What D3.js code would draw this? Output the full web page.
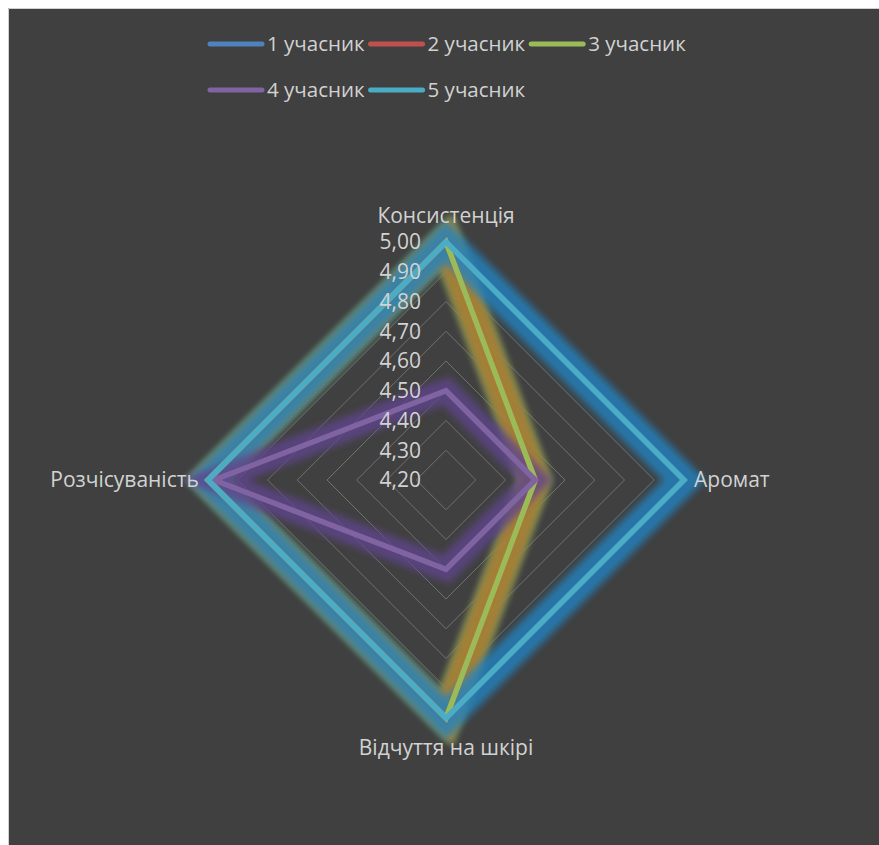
<!DOCTYPE html>
<html>
<head>
<meta charset="utf-8">
<script src="https://cdn.jsdelivr.net/npm/d3@7"></script>
<style>
  html, body { margin: 0; padding: 0; background: #ffffff; overflow: hidden; }
  svg { display: block; }
</style>
</head>
<body>
<svg id="chart" width="879" height="845"></svg>
<script>
// Radar chart: sensory scores of five participants
const axes = ["Консистенція", "Аромат", "Відчуття на шкірі", "Розчісуваність"];
const seriesNames = ["1 учасник", "2 учасник", "3 учасник", "4 учасник", "5 учасник"];
const s1 = [5.00, 5.00, 5.00, 5.00];
const s2 = [5.00, 4.50, 5.00, 5.00];
const s3 = [5.00, 4.50, 5.00, 5.00];
const s4 = [4.50, 4.50, 4.50, 4.98];
const s5 = [5.00, 5.00, 5.00, 5.00];
const tickValues = [4.2, 4.3, 4.4, 4.5, 4.6, 4.7, 4.8, 4.9, 5.0];

const lineColors = ["#4F81BD", "#C0504D", "#9BBB59", "#8064A2", "#4BACC6"];
// soft glow under the lines (drawn in glowOrder)
const glowColors = ["#2183c0", "#b0782c", "#5cc08c", "#5e438c", null];
const glowOpacity = [0.8, 0.85, 0.8, 0.8, 0];
const glowOrder = [2, 1, 0, 3];

const data = [s1, s2, s3, s4, s5];

const svg = d3.select("#chart");
const W = 879, H = 845;

// chart area
svg.append("rect").attr("x", 8).attr("y", 8).attr("width", W - 8).attr("height", H - 8)
  .attr("fill", "#404040");
svg.append("path").attr("d", `M8.5,${H} V8.5 H${W}`).attr("fill", "none")
  .attr("stroke", "#d0d0d0").attr("stroke-width", 1);

const cx = 446, cy = 480, R = 238;
const r = d3.scaleLinear().domain([4.2, 5.0]).range([0, R]);
const angle = d3.scaleLinear().domain([0, axes.length]).range([0, 2 * Math.PI]);

const radial = d3.lineRadial()
  .angle((d, i) => angle(i))
  .radius(d => r(d))
  .curve(d3.curveLinearClosed);

const defs = svg.append("defs");
const blur = defs.append("filter").attr("id", "glow")
  .attr("x", "-20%").attr("y", "-20%").attr("width", "140%").attr("height", "140%");
blur.append("feGaussianBlur").attr("stdDeviation", 3.5);

const plot = svg.append("g").attr("transform", `translate(${cx},${cy})`);

// grid diamonds
const grid = plot.append("g");
tickValues.filter(v => v > 4.2).forEach(v => {
  grid.append("path")
    .attr("d", radial(axes.map(() => v)))
    .attr("fill", "none")
    .attr("stroke", "#707070")
    .attr("stroke-width", 1);
});

// glows
const glows = plot.append("g");
glowOrder.forEach(i => {
  glows.append("path")
    .attr("d", radial(data[i]))
    .attr("fill", "none")
    .attr("stroke", glowColors[i])
    .attr("stroke-opacity", glowOpacity[i])
    .attr("stroke-width", i === 3 ? 24 : 30)
    .attr("stroke-linejoin", "miter")
    .attr("filter", "url(#glow)");
});

// series lines
const lines = plot.append("g");
data.forEach((vals, i) => {
  lines.append("path")
    .attr("d", radial(vals))
    .attr("fill", "none")
    .attr("stroke", lineColors[i])
    .attr("stroke-width", 5.5)
    .attr("stroke-linejoin", "miter");
});

const labelFont = "'Open Sans', sans-serif";

// tick labels on the vertical axis
const ticks = plot.append("g");
tickValues.forEach(v => {
  ticks.append("text")
    .attr("x", -25)
    .attr("y", -r(v))
    .attr("dy", "0.35em")
    .attr("text-anchor", "end")
    .attr("fill", "#d2d2d2")
    .attr("font-family", labelFont)
    .attr("font-size", 21)
    .text(d3.format(".2f")(v).replace(".", ","));
});

// category labels
const catPos = [
  { x: 0, y: -R - 26, anchor: "middle" },
  { x: R + 10, y: 0, anchor: "start" },
  { x: 0, y: R + 30, anchor: "middle" },
  { x: -R - 9, y: 0, anchor: "end" }
];
axes.forEach((a, i) => {
  plot.append("text")
    .attr("x", catPos[i].x)
    .attr("y", catPos[i].y)
    .attr("dy", "0.35em")
    .attr("text-anchor", catPos[i].anchor)
    .attr("fill", "#d2d2d2")
    .attr("font-family", labelFont)
    .attr("font-size", 21)
    .text(a);
});

// legend
const legendRows = [[0, 1, 2], [3, 4]];
const legend = svg.append("g");
const rowY = [44, 90];
legendRows.forEach((row, ri) => {
  let x = 208;
  row.forEach(i => {
    legend.append("line")
      .attr("x1", x + 2).attr("x2", x + 54)
      .attr("y1", rowY[ri]).attr("y2", rowY[ri])
      .attr("stroke", lineColors[i])
      .attr("stroke-width", 5)
      .attr("stroke-linecap", "round");
    const t = legend.append("text")
      .attr("x", x + 59)
      .attr("y", rowY[ri])
      .attr("dy", "0.35em")
      .attr("fill", "#d2d2d2")
      .attr("font-family", labelFont)
      .attr("font-size", 20.5)
      .text(seriesNames[i]);
    x += 59 + t.node().getComputedTextLength() + 4;
  });
});
</script>
</body>
</html>
